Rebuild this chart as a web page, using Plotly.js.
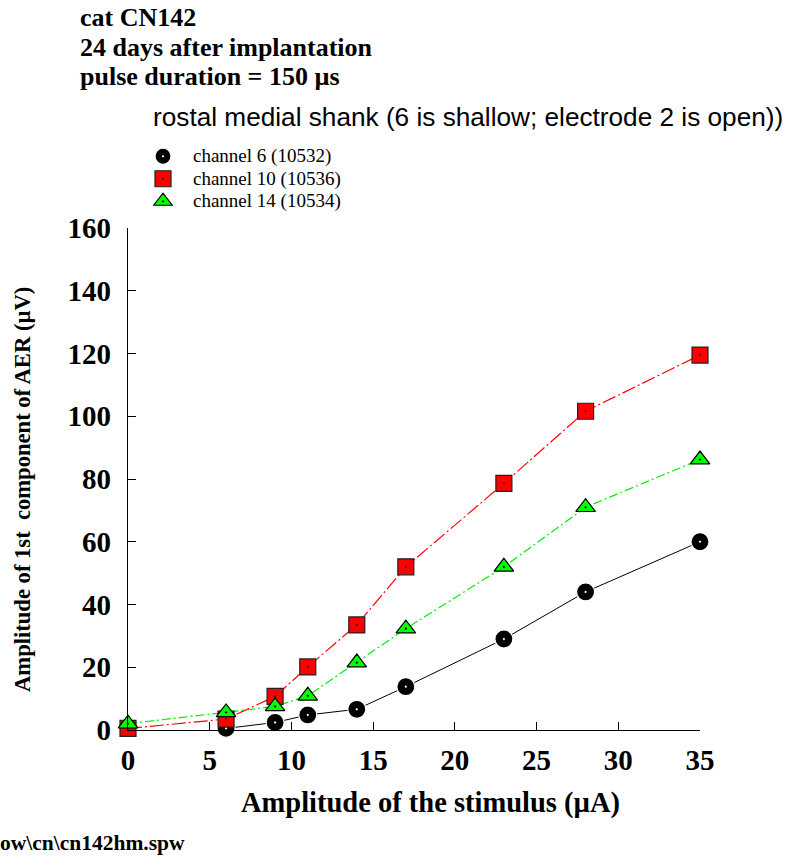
<!DOCTYPE html>
<html>
<head>
<meta charset="utf-8">
<script src="https://cdn.plot.ly/plotly-3.0.1.min.js"></script>
<style>html,body{margin:0;padding:0;background:#fff;}#chart{width:788px;height:856px;}</style>
</head>
<body>
<div id="chart"></div>
<script>
// Data
const stimulus = [0, 6, 9, 11, 14, 17, 23, 28, 35];          // µA
const stimulusCh6 = [6, 9, 11, 14, 17, 23, 28, 35];          // µA (channel 6 has no point at 0)
const ch6 = [0.5, 2.4, 4.8, 6.6, 13.8, 29, 44, 60];          // µV
const ch10 = [0.5, 3.5, 10.7, 20.1, 33.5, 52, 78.6, 101.6, 119.5];
const ch14 = [2, 5.6, 7.5, 10.9, 21.5, 32.3, 52, 71, 86.2];
const seriesNames = ["channel 6 (10532)", "channel 10 (10536)", "channel 14 (10534)"];
const xTicks = [0, 5, 10, 15, 20, 25, 30, 35];
const yTicks = [0, 20, 40, 60, 80, 100, 120, 140, 160];
const xTitle = "Amplitude of the stimulus (µA)";
const yTitle = "Amplitude of 1st  component of AER (µV)";

const serif = "Liberation Serif, Times New Roman, serif";
const sans = "Liberation Sans, Arial, sans-serif";

const xs = [stimulusCh6, stimulus, stimulus];
const ys = [ch6, ch10, ch14];
const lineStyles = [
  {color: "#000000", width: 1},
  {color: "#ff0000", width: 1.2, dash: "14px,3px,2px,3px"},
  {color: "#00ee00", width: 1.2, dash: "9px,3px,2px,3px"}
];
const markerStyles = [
  {symbol: "circle-dot", size: 18, color: "#000000", line: {color: "#ffffff", width: 1.2}},
  {symbol: "square-dot", size: 16, color: "#ff0000", line: {color: "#222222", width: 1.2}},
  {symbol: "triangle-up-dot", size: 17, color: "#00ff00", line: {color: "#000000", width: 1.2}}
];

const traces = [];
for (let i = 0; i < 3; i++) {
  traces.push({
    x: xs[i], y: ys[i], name: seriesNames[i], type: "scatter", mode: "lines",
    line: lineStyles[i], showlegend: false, hoverinfo: "skip"
  });
}
for (let i = 0; i < 3; i++) {
  traces.push({
    x: xs[i], y: ys[i], type: "scatter", mode: "markers",
    name: '<span style="font-size:19px">' + seriesNames[i] + '</span>',
    marker: markerStyles[i], cliponaxis: false, showlegend: true
  });
}

const PW = 572, PH = 502, TOP = 730; // plot width/height, bottom pixel of plot
const px = v => (v - 128) / PW;       // pixel x -> paper x
const py = v => (TOP - v) / PH;       // pixel y -> paper y

const layout = {
  width: 788, height: 856,
  paper_bgcolor: "#ffffff", plot_bgcolor: "#ffffff",
  margin: {l: 128, r: 88, t: 228, b: 126},
  showlegend: true,
  legend: {
    x: px(133), y: py(140), xanchor: "left", yanchor: "top",
    font: {family: serif, size: 15, color: "#000"},
    bgcolor: "rgba(0,0,0,0)", itemwidth: 50, tracegroupgap: 0, itemsizing: "trace"
  },
  xaxis: {
    range: [0, 35], tickvals: xTicks, ticks: "inside", ticklen: 8, tickcolor: "#000",
    showline: true, linecolor: "#000", linewidth: 1.2, showgrid: false, zeroline: false,
    tickfont: {family: serif, size: 29, color: "#000", weight: "bold"},
    ticklabelstandoff: 4
  },
  yaxis: {
    range: [0, 160], tickvals: yTicks, ticks: "inside", ticklen: 8, tickcolor: "#000",
    showline: true, linecolor: "#000", linewidth: 1.2, showgrid: false, zeroline: false,
    tickfont: {family: serif, size: 29, color: "#000", weight: "bold"},
    ticklabelstandoff: 10
  },
  annotations: [
    {xref: "paper", yref: "paper", x: px(78), y: py(18), xanchor: "left", yanchor: "middle", showarrow: false,
     text: "<b>cat CN142</b>", font: {family: serif, size: 26, color: "#000"}},
    {xref: "paper", yref: "paper", x: px(78), y: py(47), xanchor: "left", yanchor: "middle", showarrow: false,
     text: "<b>24 days after implantation</b>", font: {family: serif, size: 26, color: "#000"}},
    {xref: "paper", yref: "paper", x: px(78), y: py(76), xanchor: "left", yanchor: "middle", showarrow: false,
     text: "<b>pulse duration = 150 µs</b>", font: {family: serif, size: 26, color: "#000"}},
    {xref: "paper", yref: "paper", x: px(151), y: py(117), xanchor: "left", yanchor: "middle", showarrow: false,
     text: "rostal medial shank (6 is shallow; electrode 2 is open))", font: {family: sans, size: 26.2, color: "#000"}},
    {xref: "paper", yref: "paper", x: px(-2), y: py(843), xanchor: "left", yanchor: "middle", showarrow: false,
     text: "<b>ow\\cn\\cn142hm.spw</b>", font: {family: serif, size: 21.5, color: "#000"}},
    {xref: "paper", yref: "paper", x: px(430), y: py(803), xanchor: "center", yanchor: "middle", showarrow: false,
     text: "<b>" + xTitle + "</b>", font: {family: serif, size: 28.5, color: "#000"}},
    {xref: "paper", yref: "paper", x: px(22), y: py(490), xanchor: "center", yanchor: "middle", showarrow: false,
     textangle: -90, text: "<b>" + yTitle + "</b>", font: {family: serif, size: 22.6, color: "#000"}}
  ]
};

Plotly.newPlot("chart", traces, layout, {displayModeBar: false, staticPlot: true});
</script>
</body>
</html>
